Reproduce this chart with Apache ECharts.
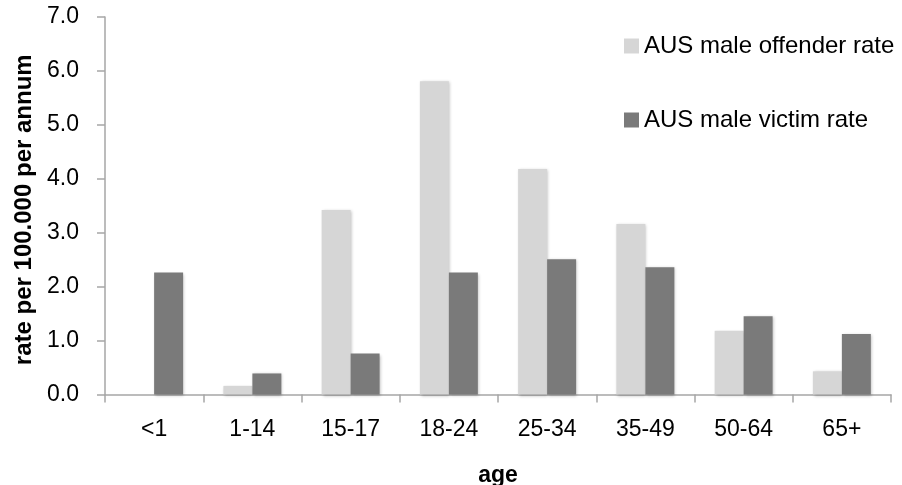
<!DOCTYPE html>
<html>
<head>
<meta charset="utf-8">
<script src="https://cdn.jsdelivr.net/npm/echarts@6/dist/echarts.min.js"></script>
<style>html,body{margin:0;padding:0;background:#fff;}#c{width:902px;height:485px;}</style>
</head>
<body>
<div id="c"></div>
<script>
const categories = ['<1', '1-14', '15-17', '18-24', '25-34', '35-49', '50-64', '65+'];
const offenderRate = [0, 0.16, 3.42, 5.81, 4.18, 3.16, 1.18, 0.43];
const victimRate = [2.26, 0.39, 0.76, 2.26, 2.51, 2.36, 1.45, 1.12];
const seriesNames = ['AUS male offender rate', 'AUS male victim rate'];

const font = 'Liberation Sans';
const axisColor = '#a6a6a6';
const chart = echarts.init(document.getElementById('c'), null, {renderer: 'canvas'});
const shadow = {shadowBlur: 3, shadowColor: 'rgba(0,0,0,0.25)', shadowOffsetX: 1, shadowOffsetY: 1};
chart.setOption({
  animation: false,
  textStyle: {fontFamily: font},
  grid: {left: 105, right: 11, top: 17, bottom: 90.5, containLabel: false, outerBoundsMode: 'none'},
  legend: {
    orient: 'vertical', left: 624, top: 34, padding: 0, itemWidth: 15, itemHeight: 15, itemGap: 50,
    icon: 'rect',
    textStyle: {fontFamily: font, fontSize: 24, color: '#000'},
    data: seriesNames
  },
  xAxis: {
    type: 'category', data: categories,
    name: 'age', nameLocation: 'middle', nameGap: 70,
    nameTextStyle: {fontFamily: font, fontSize: 23, fontWeight: 'bold', color: '#000'},
    axisLine: {lineStyle: {color: axisColor, width: 1.5}},
    axisTick: {show: true, length: 8, lineStyle: {color: axisColor, width: 1.5}},
    axisLabel: {fontFamily: font, fontSize: 23, color: '#000', margin: 24}
  },
  yAxis: {
    type: 'value', min: 0, max: 7, interval: 1,
    name: 'rate per 100.000 per annum', nameLocation: 'middle', nameGap: 68,
    nameTextStyle: {fontFamily: font, fontSize: 24, fontWeight: 'bold', color: '#000', padding: [0, 8, 0, 0]},
    axisLine: {show: true, lineStyle: {color: axisColor, width: 1.5}},
    axisTick: {show: true, length: 8, lineStyle: {color: axisColor, width: 1.5}},
    splitLine: {show: false},
    axisLabel: {fontFamily: font, fontSize: 23, color: '#000', margin: 26,
      formatter: v => v.toFixed(1)}
  },
  series: [
    {name: seriesNames[0], type: 'bar', data: offenderRate, barGap: '0%', barCategoryGap: '41%',
     itemStyle: Object.assign({color: '#d6d6d6'}, shadow)},
    {name: seriesNames[1], type: 'bar', data: victimRate, barGap: '0%', barCategoryGap: '41%',
     itemStyle: Object.assign({color: '#7a7a7a'}, shadow)}
  ]
});
</script>
</body>
</html>
